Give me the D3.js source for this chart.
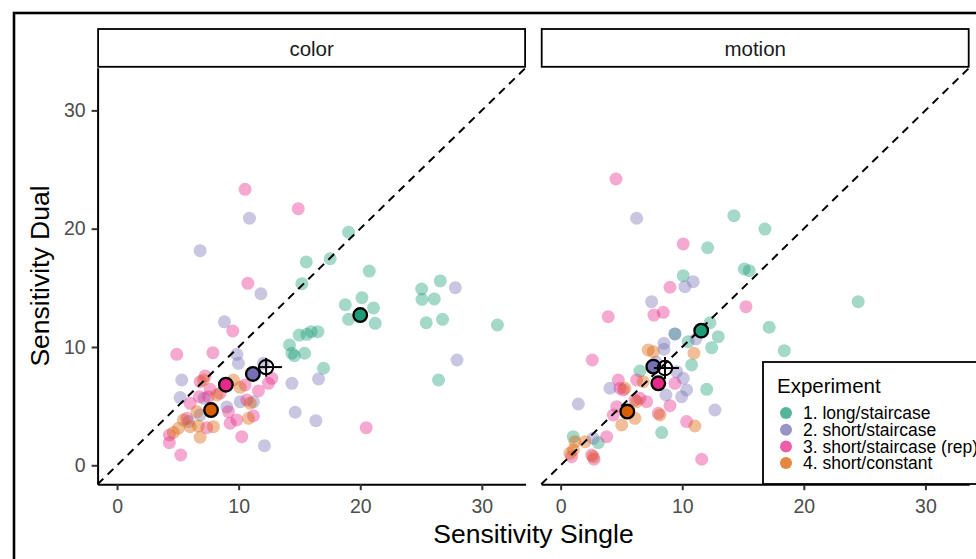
<!DOCTYPE html>
<html>
<head>
<meta charset="utf-8">
<script src="https://cdnjs.cloudflare.com/ajax/libs/d3/7.8.5/d3.min.js"></script>
<style>
body { margin: 0; background: #fff; }
text { font-family: "Liberation Sans", Arial, sans-serif; }
</style>
</head>
<body>
<div class="sensChart"></div>
<script>
var width = 976,
height = 559,
panelLeft = [97.6, 541.2],
panelW = 428,
panelTop = 67.8,
panelBottom = 484.2,
stripTop = 29;

var facets = ["color", "motion"];
var experiments = ["1. long/staircase", "2. short/staircase", "3. short/staircase (rep)", "4. short/constant"];
var colors = ["#1B9E77", "#7570B3", "#E7298A", "#D95F02"];
var xTicks = [0, 10, 20, 30];
var yTicks = [0, 10, 20, 30];

// color facet, one array per experiment: [single, dual]
var colorLong = [[19.04,19.70],[15.56,17.19],[17.53,17.46],[15.20,15.35],[20.74,16.42],[25.05,14.90],
	[26.58,15.58],[25.08,14.03],[26.09,14.06],[25.43,12.05],[26.77,12.34],[31.28,11.86],[26.44,7.21],
	[18.77,13.57],[20.14,14.17],[21.09,13.30],[19.04,12.34],[21.23,12.00],[14.98,11.01],[15.61,11.07],
	[15.97,11.29],[16.52,11.29],[14.18,10.17],[14.38,9.47],[14.59,9.26],[15.42,9.47],[16.98,8.20]];
var colorShort = [[10.89,20.89],[6.83,18.14],[11.83,14.50],[8.83,12.13],[9.85,9.38],[9.98,8.62],
	[5.32,7.21],[5.19,5.72],[14.38,6.93],[16.57,7.30],[14.65,4.48],[16.35,3.77],[12.12,1.66],[12.04,8.62],
	[7.16,5.66],[10.12,5.36],[9.03,4.93],[11.22,5.36],[6.83,4.26],[5.87,3.69],[27.82,15.01],[27.96,8.90]];
var colorRep = [[10.53,23.33],[14.90,21.69],[10.76,15.38],[9.52,11.35],[4.91,9.38],[7.88,9.52],
	[7.24,7.55],[6.83,7.07],[7.65,6.42],[7.51,5.80],[12.73,7.35],[12.45,6.93],[11.63,6.28],[10.53,6.79],
	[6.01,5.24],[6.77,5.80],[8.48,6.09],[9.16,4.53],[10.67,5.52],[9.85,3.83],[9.30,3.55],[11.22,4.17],
	[5.74,3.97],[7.38,3.18],[4.30,2.56],[4.30,1.91],[10.26,2.42],[5.24,0.87],[20.49,3.18]];
var colorConst = [[7.10,7.21],[9.57,7.21],[10.12,6.59],[8.21,5.94],[10.95,5.24],[6.56,4.53],
	[10.81,3.97],[5.46,3.83],[5.05,3.13],[6.01,3.26],[6.69,3.32],[7.93,3.26],[4.63,2.76],[6.83,2.37]];

// motion facet
var motionLong = [[14.25,21.10],[16.80,19.97],[12.09,18.39],[15.10,16.59],[15.51,16.45],[10.08,16.03],
	[24.47,13.83],[12.28,12.05],[12.96,10.87],[17.15,11.67],[12.42,9.94],[18.39,9.69],[10.49,10.45],
	[9.40,11.10],[10.77,8.48],[12.01,6.42],[6.52,7.97],[8.31,2.76],[1.04,2.42],[3.09,1.91]];
var motionShort = [[6.25,20.88],[10.22,15.10],[10.90,15.52],[7.48,13.83],[9.40,11.10],[11.13,10.68],
	[8.50,10.31],[8.50,9.81],[9.54,7.91],[10.08,7.35],[10.36,6.37],[9.95,5.80],[8.66,5.94],[4.05,6.51],
	[12.69,4.67],[1.45,5.18],[2.68,2.28],[7.84,8.73]];
var motionRep = [[4.55,24.20],[10.08,18.71],[8.99,15.05],[3.91,12.56],[7.67,12.70],[8.44,12.93],
	[15.24,13.41],[2.60,8.90],[4.74,7.21],[4.88,6.51],[5.15,6.37],[6.25,7.21],[9.40,6.93],[6.52,5.66],
	[6.11,5.52],[7.07,5.38],[8.99,5.04],[8.03,4.40],[4.61,4.95],[4.33,4.25],[10.36,3.69],[11.60,0.51],
	[3.78,2.42],[0.90,0.73],[2.55,0.87],[2.74,0.51]];
var motionConst = [[10.96,9.47],[7.20,9.75],[7.62,9.60],[5.29,6.51],[6.79,7.07],[6.25,5.38],
	[8.17,4.25],[5.02,3.41],[6.11,3.97],[11.04,3.32],[2.00,1.99],[1.18,1.99],[1.04,1.29],[2.68,0.73],[0.76,1.01]];

// experiment means per facet
var colorMeans = [[20.0,12.7],[11.17,7.72],[8.95,6.81],[7.73,4.67]];
var motionMeans = [[11.56,11.38],[7.62,8.34],[8.03,6.93],[5.48,4.54]];

// grand mean with its error range, per facet
var grandMean = [[12.26,8.3],[8.58,8.22]];
var grandX = [[11.6,13.56],[7.67,9.73]];
var grandY = [[7.49,9.07],[7.3,9.15]];

var facetPoints = [[colorLong, colorShort, colorRep, colorConst],
	[motionLong, motionShort, motionRep, motionConst]];
var facetMeans = [colorMeans, motionMeans];

var svg = d3.select('div.sensChart')
			.append('svg')
			.attr('width', width)
			.attr('height', height);

// outer frame
svg.append('rect')
	.attr('x', 14).attr('y', 13)
	.attr('width', 1000).attr('height', 600)
	.attr('fill', 'none')
	.attr('stroke', '#000')
	.attr('stroke-width', 2.6);

var y = d3.scaleLinear()
		.domain([-1.6, 33.6])
		.range([panelBottom, panelTop]);

function drawPanel(p){
	var x0 = panelLeft[p];
	var x = d3.scaleLinear()
			.domain([-1.6, 33.6])
			.range([x0, x0 + panelW]);

	var g = svg.append('g').attr('class', 'panel-' + facets[p]);

	// strip
	g.append('rect')
		.attr('x', x0 + 0.5).attr('y', stripTop)
		.attr('width', panelW - 1).attr('height', panelTop - stripTop - 1)
		.attr('fill', '#fff')
		.attr('stroke', '#000')
		.attr('stroke-width', 1.8);
	g.append('text')
		.attr('x', x0 + panelW/2)
		.attr('y', 56)
		.attr('text-anchor', 'middle')
		.attr('font-size', '20.5px')
		.attr('fill', '#1a1a1a')
		.text(facets[p]);

	// raw points
	facetPoints[p].forEach(function(pts, k){
		g.append('g').selectAll('circle')
			.data(pts)
			.enter()
			.append('circle')
			.attr('cx', function(d){ return x(d[0]); })
			.attr('cy', function(d){ return y(d[1]); })
			.attr('r', 6.5)
			.attr('fill', colors[k])
			.attr('fill-opacity', 0.4);
	});

	// identity line
	g.append('line')
		.attr('x1', x(-1.6)).attr('y1', y(-1.6))
		.attr('x2', x(33.6)).attr('y2', y(33.6))
		.attr('stroke', '#000')
		.attr('stroke-width', 2)
		.attr('stroke-dasharray', '8,6');

	// means
	g.append('g').selectAll('circle')
		.data(facetMeans[p])
		.enter()
		.append('circle')
		.attr('cx', function(d){ return x(d[0]); })
		.attr('cy', function(d){ return y(d[1]); })
		.attr('r', 6.8)
		.attr('fill', function(d, i){ return colors[i]; })
		.attr('stroke', '#000')
		.attr('stroke-width', 2.3);

	// grand mean
	var gm = grandMean[p];
	g.append('line')
		.attr('x1', x(grandX[p][0])).attr('x2', x(grandX[p][1]))
		.attr('y1', y(gm[1])).attr('y2', y(gm[1]))
		.attr('stroke', '#000').attr('stroke-width', 2);
	g.append('line')
		.attr('x1', x(gm[0])).attr('x2', x(gm[0]))
		.attr('y1', y(grandY[p][0])).attr('y2', y(grandY[p][1]))
		.attr('stroke', '#000').attr('stroke-width', 2);
	g.append('circle')
		.attr('cx', x(gm[0])).attr('cy', y(gm[1]))
		.attr('r', 7.2)
		.attr('fill', 'none')
		.attr('stroke', '#000')
		.attr('stroke-width', 2);

	// x axis
	var xAxis = g.append('g')
		.attr('class', 'axis')
		.attr('transform', 'translate(0,' + panelBottom + ')')
		.call(d3.axisBottom(x).tickValues(xTicks).tickSize(6).tickSizeOuter(0).tickPadding(5));
	styleAxis(xAxis);
	xAxis.selectAll('.tick text').attr('dy', '0.9em');

	if (p == 0){
		var yAxis = g.append('g')
			.attr('class', 'axis')
			.attr('transform', 'translate(' + x0 + ',0)')
			.call(d3.axisLeft(y).tickValues(yTicks).tickSize(6).tickSizeOuter(0).tickPadding(6));
		styleAxis(yAxis);
	}
}

function styleAxis(a){
	a.select('.domain').attr('stroke', '#000').attr('stroke-width', 2);
	a.selectAll('.tick line').attr('stroke', '#333').attr('stroke-width', 2);
	a.selectAll('.tick text')
		.attr('fill', '#4d4d4d')
		.attr('font-size', '19.5px')
		.attr('font-family', '"Liberation Sans", Arial, sans-serif');
}

drawPanel(0);
drawPanel(1);

// axis titles
svg.append('text')
	.attr('x', 533.5)
	.attr('y', 543)
	.attr('text-anchor', 'middle')
	.attr('font-size', '26.5px')
	.attr('fill', '#000')
	.text('Sensitivity Single');

svg.append('text')
	.attr('transform', 'translate(49,276) rotate(-90)')
	.attr('text-anchor', 'middle')
	.attr('font-size', '26.5px')
	.attr('fill', '#000')
	.text('Sensitivity Dual');

// legend
var legend = svg.append('g').attr('class', 'legend');
legend.append('rect')
	.attr('x', 763).attr('y', 362)
	.attr('width', 260).attr('height', 122)
	.attr('fill', '#fff')
	.attr('stroke', '#000')
	.attr('stroke-width', 1.8);
legend.append('text')
	.attr('x', 777)
	.attr('y', 393)
	.attr('font-size', '20.5px')
	.attr('fill', '#000')
	.text('Experiment');

var rows = legend.selectAll('g.row')
	.data(experiments)
	.enter()
	.append('g')
	.attr('class', 'row')
	.attr('transform', function(d, i){ return 'translate(0,' + (413 + i*16.7) + ')'; });
rows.append('circle')
	.attr('cx', 786).attr('cy', 0)
	.attr('r', 6)
	.attr('fill', function(d, i){ return colors[i]; })
	.attr('fill-opacity', 0.75);
rows.append('text')
	.attr('x', 803).attr('y', 6.3)
	.attr('font-size', '17.5px')
	.attr('fill', '#000')
	.text(function(d){ return d; });
</script>
</body>
</html>
